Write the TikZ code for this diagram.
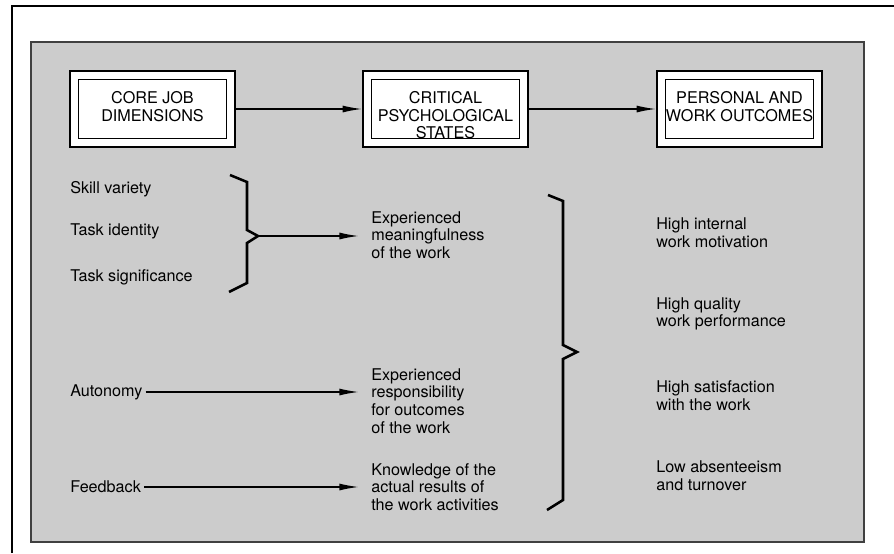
\documentclass[tikz,border=0pt]{standalone}
\usepackage{fontspec}
\setmainfont{TeX Gyre Heros}
\usetikzlibrary{arrows.meta,positioning,calc}

\begin{document}
\begin{tikzpicture}[
    x=0.025cm, y=-0.025cm,
    font=\fontsize{11.5}{12.6}\selectfont,
    % Style definitions
    panel/.style={draw=black!75, fill=black!20, line width=1pt},
    dimbox/.style={rectangle, draw, fill=white, line width=1.1pt, double=white, double distance=5pt, outer sep=3.6pt, minimum width=3.91cm, minimum height=1.69cm},
    heading/.style={align=center, inner sep=0pt},
    item/.style={align=left, inner sep=0pt, anchor=west},
    brace/.style={line width=1.8pt, line join=miter},
    arrow/.style={->, >={Latex[length=14pt, width=5pt]}, line width=1.1pt}
]
\useasboundingbox (0,0) rectangle (894,553);

% Frame and shaded panel
\draw[line width=1.3pt] (12,553) -- (12,6) -- (894,6);
\draw[panel] (31,42) rectangle (864,542);

% Heading boxes
\node[dimbox] (core) at (152.5,109) {};
\node[dimbox] (crit) at (445.5,109) {};
\node[dimbox] (outc) at (739.5,109) {};
\node[heading, below=0.52cm of core.north] (coretext) {CORE JOB\\DIMENSIONS};
\node[heading, below=0.52cm of crit.north] (crittext) {CRITICAL\\PSYCHOLOGICAL\\STATES};
\node[heading, below=0.52cm of outc.north] (outctext) {PERSONAL AND\\WORK OUTCOMES};

\draw[arrow] (core.east) -- (crit.west);
\draw[arrow] (crit.east) -- (outc.west);

% Core job dimensions
\node[item] (skill) at (70,189) {Skill variety};
\node[item] (ident) at (70,231) {Task identity};
\node[item] (signif) at (70,277) {Task significance};
\node[item] (auton) at (70,392) {Autonomy};
\node[item] (feedb) at (70,487) {Feedback};

% Critical psychological states
\node[item] (meaning) at (371,235) {Experienced\\meaningfulness\\of the work};
\node[item] (resp) at (371,401) {Experienced\\responsibility\\for outcomes\\of the work};
\node[item] (know) at (371,487) {Knowledge of the\\actual results of\\the work activities};

% Personal and work outcomes
\node[item] (motiv) at (656,233) {High internal\\work motivation};
\node[item] (perf) at (656,314) {High quality\\work performance};
\node[item] (satis) at (656,396) {High satisfaction\\with the work};
\node[item] (absent) at (656,476) {Low absenteeism\\and turnover};

% Braces
\draw[brace] (230,175) -- (247,182) -- (247,230) -- (258,236) coordinate (tipA)
    -- (247,243) -- (247,283) -- (229,292);
\draw[brace] (548,195) -- (563,201) -- (563,345) -- (577,352)
    -- (563,359) -- (563,500) -- (547,510);

% Connections
\draw[arrow, shorten >=0.3cm] (tipA) -- (tipA -| meaning.west);
\draw[arrow, shorten <=2pt, shorten >=0.3cm] (auton.east) -- (auton -| resp.west);
\draw[arrow, shorten <=2pt, shorten >=0.3cm] (feedb.east) -- (feedb -| know.west);

\end{tikzpicture}
\end{document}
